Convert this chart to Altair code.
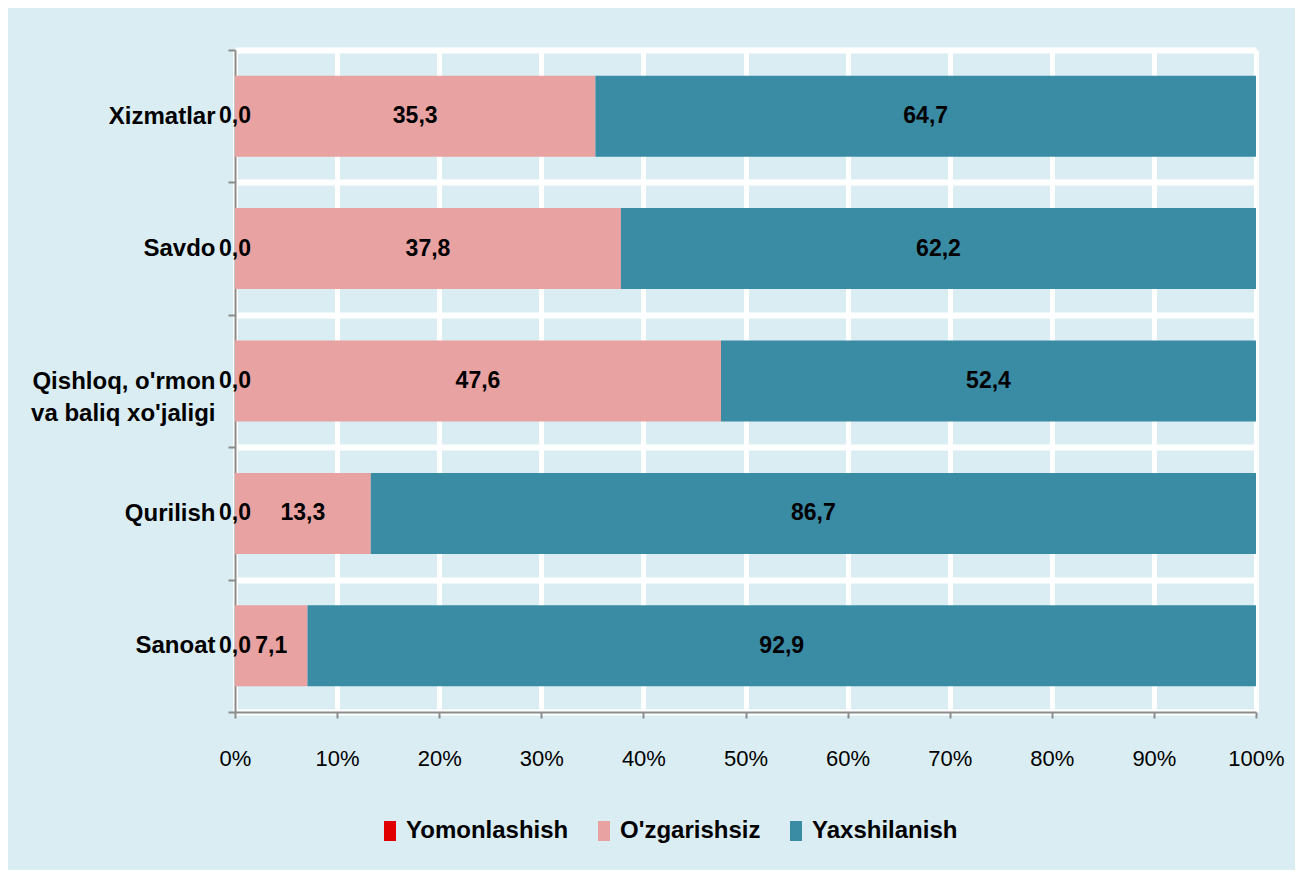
import altair as alt
import pandas as pd

categories = ["Xizmatlar", "Savdo", "Qishloq, o'rmon\nva baliq xo'jaligi", "Qurilish", "Sanoat"]
series = ["Yomonlashish", "O'zgarishsiz", "Yaxshilanish"]
yomonlashish = [0.0, 0.0, 0.0, 0.0, 0.0]
ozgarishsiz = [35.3, 37.8, 47.6, 13.3, 7.1]
yaxshilanish = [64.7, 62.2, 52.4, 86.7, 92.9]
colors = ["#E00000", "#E8A2A1", "#3A8BA4"]
x_ticks = [0, 10, 20, 30, 40, 50, 60, 70, 80, 90, 100]

rows = []
for i, c in enumerate(categories):
    for k, (s, vals) in enumerate(zip(series, [yomonlashish, ozgarishsiz, yaxshilanish])):
        rows.append({"cat": c, "series": s, "value": vals[i], "order": k})
df = pd.DataFrame(rows)

FONT = "Liberation Sans"

base = alt.Chart(df).transform_stack(
    stack="value", groupby=["cat"], as_=["v0", "v1"],
    sort=[alt.SortField("order", order="ascending")]
).transform_calculate(
    mid="(datum.v0 + datum.v1) / 2",
    label="replace(format(datum.value, '.1f'), '.', ',')"
)

yenc = alt.Y("cat:N", sort=categories, title=None,
             scale=alt.Scale(paddingInner=0, paddingOuter=0),
             axis=alt.Axis(labelFont=FONT, labelFontSize=24, labelFontWeight="bold",
                           labelColor="black", labelPadding=13, labelLimit=0,
                           labelExpr="split(datum.label, '\\n')", labelLineHeight=32,
                           domainColor="#8C8C8C", domainWidth=2,
                           tickColor="#8C8C8C", tickWidth=2, tickSize=7,
                           tickBand="extent", grid=True, gridColor="white", gridWidth=6))

bars = base.mark_bar(size=81).encode(
    x=alt.X("v0:Q", title=None,
            scale=alt.Scale(domain=[0, 100], nice=False),
            axis=alt.Axis(values=x_ticks, labelExpr="datum.value + '%'",
                          labelFont=FONT, labelFontSize=22, labelColor="black",
                          labelFlush=False, labelPadding=30, tickSize=6, tickWidth=2,
                          tickColor="#8C8C8C", domainColor="#8C8C8C", domainWidth=2,
                          grid=True, gridColor="white", gridWidth=5)),
    x2="v1:Q",
    y=yenc,
    color=alt.Color("series:N", sort=series,
                    scale=alt.Scale(domain=series, range=colors),
                    legend=alt.Legend(title=None, orient="none", direction="horizontal",
                                      legendX=143, legendY=769,
                                      labelFont=FONT, labelFontSize=24, labelFontWeight="bold",
                                      labelColor="black", labelOffset=4, columnPadding=23,
                                      labelLimit=0,
                                      symbolType="M-0.6,-1H0.6V1H-0.6Z",
                                      symbolSize=400, symbolStrokeWidth=0,
                                      symbolOpacity=1)),
)

labels = base.mark_text(font=FONT, fontSize=23, fontWeight="bold", color="black",
                        align="center", baseline="middle").encode(
    x=alt.X("mid:Q"),
    y=alt.Y("cat:N", sort=categories),
    text="label:N",
)

chart = alt.layer(bars, labels).properties(
    width=1021, height=662,
    background="#DAEDF3",
    padding={"left": 227, "top": 42, "right": 39, "bottom": 158},
    autosize=alt.AutoSizeParams(type="none"),
).configure_view(strokeWidth=0)

chart.save("out.html", embed_options={"renderer": "svg", "actions": False})
